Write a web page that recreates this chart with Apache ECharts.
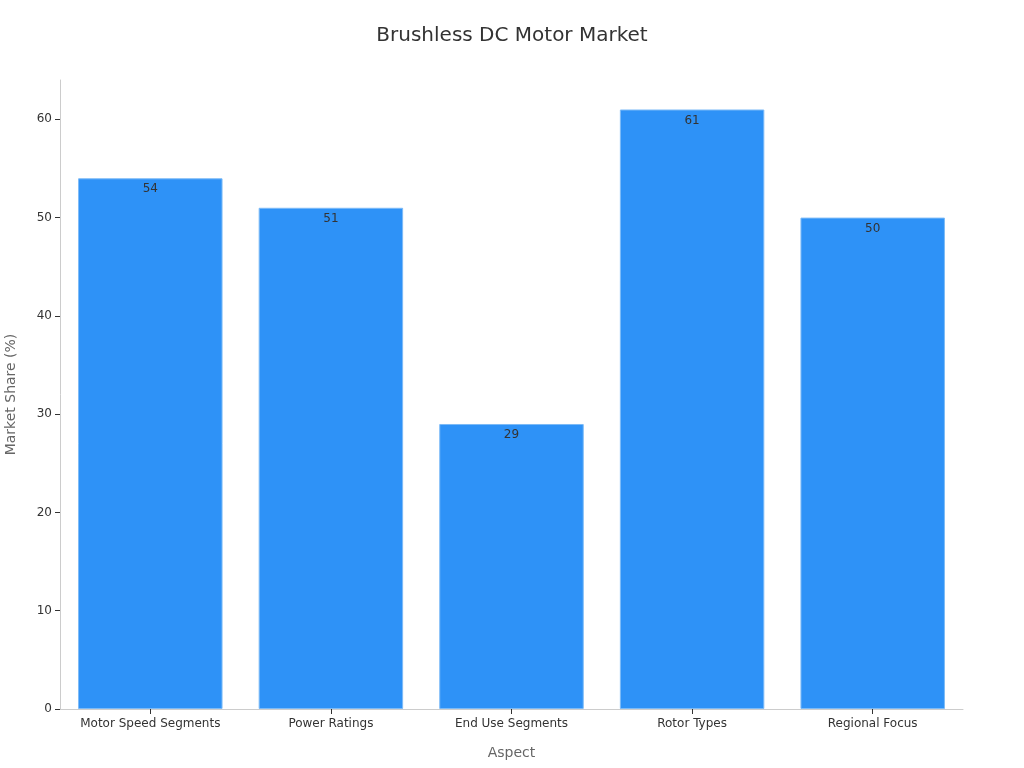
<!DOCTYPE html>
<html>
<head>
<meta charset="utf-8">
<script src="https://cdn.jsdelivr.net/npm/echarts@6/dist/echarts.min.js"></script>
<style>html,body{margin:0;padding:0;background:#fff}#c{width:1024px;height:768px}</style>
</head>
<body>
<div id="c"></div>
<script>
const categories = ["Motor Speed Segments", "Power Ratings", "End Use Segments", "Rotor Types", "Regional Focus"];
const values = [54, 51, 29, 61, 50];
const yTicks = [0, 10, 20, 30, 40, 50, 60];

const chart = echarts.init(document.getElementById('c'));
chart.setOption({
  animation: false,
  textStyle: { fontFamily: 'DejaVu Sans' },
  title: {
    text: 'Brushless DC Motor Market',
    left: 'center', top: 21,
    textStyle: { fontSize: 20, fontWeight: 'normal', color: '#333', fontFamily: 'DejaVu Sans' }
  },
  grid: { left: 60, right: 61, top: 80, bottom: 59, containLabel: false, outerBoundsMode: 'none' },
  xAxis: {
    type: 'category',
    data: categories,
    name: 'Aspect',
    nameLocation: 'middle',
    nameGap: 37,
    nameTextStyle: { fontSize: 14, color: '#666' },
    axisLine: { show: true, lineStyle: { color: '#ccc' } },
    axisTick: { show: true, interval: 0, alignWithLabel: true, lineStyle: { color: '#333' }, length: 5 },
    axisLabel: { show: true, interval: 0, fontSize: 12, color: '#333', margin: 9 }
  },
  yAxis: {
    type: 'value',
    min: 0, max: 64, interval: 10,
    name: 'Market Share (%)',
    nameLocation: 'middle',
    nameGap: 42,
    nameTextStyle: { fontSize: 14, color: '#666' },
    axisLine: { show: true, lineStyle: { color: '#ccc' } },
    axisTick: { show: true, lineStyle: { color: '#333' }, length: 5, customValues: yTicks },
    splitLine: { show: false },
    axisLabel: { fontSize: 12, color: '#333', margin: 8, customValues: yTicks }
  },
  series: [{
    type: 'bar',
    data: values,
    barCategoryGap: '20%',
    itemStyle: { color: '#2E92F7', borderColor: '#7DBBF7', borderWidth: 1 },
    label: { show: true, position: 'insideTop', color: '#333', fontSize: 12, distance: 5 }
  }]
});
</script>
</body>
</html>
